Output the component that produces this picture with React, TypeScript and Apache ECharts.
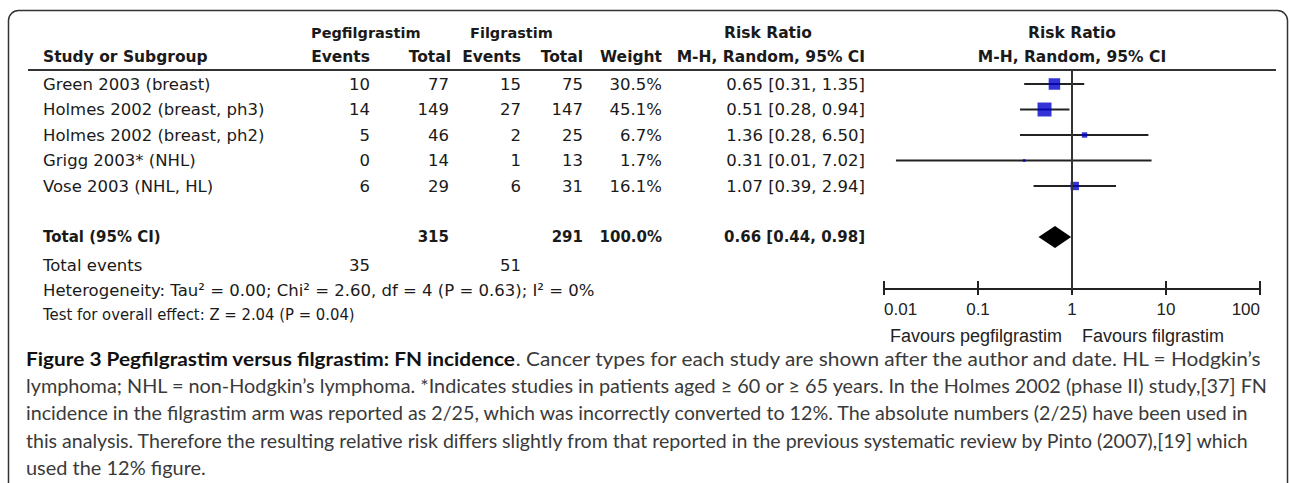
import React, { useEffect, useRef } from "react";
import * as echarts from "echarts";

// ---------- data ----------
const studies = [
  "Green 2003 (breast)",
  "Holmes 2002 (breast, ph3)",
  "Holmes 2002 (breast, ph2)",
  "Grigg 2003* (NHL)",
  "Vose 2003 (NHL, HL)",
];
const pegEvents = [10, 14, 5, 0, 6];
const pegTotal = [77, 149, 46, 14, 29];
const filEvents = [15, 27, 2, 1, 6];
const filTotal = [75, 147, 25, 13, 31];
const weights = [30.5, 45.1, 6.7, 1.7, 16.1];
const riskRatio = [0.65, 0.51, 1.36, 0.31, 1.07];
const ciLow = [0.31, 0.28, 0.28, 0.0134, 0.39];
const ciHigh = [1.35, 0.94, 6.5, 7.02, 2.94];
const totalLabel = "Total (95% CI)";
const totalPeg = 315;
const totalFil = 291;
const totalWeight = 100.0;
const totalRR = [0.44, 0.66, 0.98]; // low, estimate, high
const totalEventsPeg = 35;
const totalEventsFil = 51;
const heterogeneityText = "Heterogeneity: Tau\u00b2 = 0.00; Chi\u00b2 = 2.60, df = 4 (P = 0.63); I\u00b2 = 0%";
const overallText = "Test for overall effect: Z = 2.04 (P = 0.04)";
const axisTickValues = [0.01, 0.1, 1, 10, 100];
const favourLeft = "Favours pegfilgrastim";
const favourRight = "Favours filgrastim";
const captionBold = "Figure 3 Pegfilgrastim versus filgrastim: FN incidence";
const captionLines = [
  ". Cancer types for each study are shown after the author and date. HL = Hodgkin\u2019s",
  "lymphoma; NHL = non-Hodgkin\u2019s lymphoma. *Indicates studies in patients aged \u2265 60 or \u2265 65 years. In the Holmes 2002 (phase II) study,[37] FN",
  "incidence in the filgrastim arm was reported as 2/25, which was incorrectly converted to 12%. The absolute numbers (2/25) have been used in",
  "this analysis. Therefore the resulting relative risk differs slightly from that reported in the previous systematic review by Pinto (2007),[19] which",
  "used the 12% figure.",
];

// ---------- layout ----------
const W = 1290;
const H = 483;
const ROW0 = 84;
const ROWH = 25.5;
const HEAD_LINE_Y = 70;
const AXIS_Y = 289;
const TOTAL_ROW = 6;
const PLOT_LEFT = 884;
const PLOT_RIGHT = 1260;
const CAP_X = 26;
const CAP_Y0 = 358;
const CAP_DY = 27.5;
const CAP_SIZE = 19.5;
const CAP_RIGHT = [1264, 1269, 1250, 1252];

const FONT_T = "'DejaVu Sans', Verdana, sans-serif";
const FONT_A = "'Liberation Sans', Arial, sans-serif";
const FONT_C = "Lato";
const TXT = "#1a1a1a";

const rowY = (i: number) => ROW0 + ROWH * i;

function txt(x: number, y: number, text: string, o: any = {}) {
  return {
    type: "text",
    x,
    y,
    scaleX: o.scaleX || 1,
    silent: true,
    style: {
      text,
      fontFamily: o.family || FONT_T,
      fontSize: o.size || 16.5,
      fontWeight: o.bold ? "bold" : "normal",
      fill: o.color || TXT,
      textAlign: o.align || "left",
      textVerticalAlign: "middle",
    },
  };
}

function measure(text: string, weight: string, size: number, family: string) {
  const c = document.createElement("canvas").getContext("2d");
  if (!c) return 0;
  c.font = `${weight} ${size}px ${family}`;
  return c.measureText(text).width;
}

function buildGraphics() {
  const g: any[] = [];
  g.push({
    type: "rect",
    silent: true,
    shape: { x: 8.5, y: 10.5, width: 1279, height: 700, r: 10 },
    style: { fill: "none", stroke: "#333", lineWidth: 1.5 },
  });
  g.push({
    type: "line",
    silent: true,
    shape: { x1: 28, y1: HEAD_LINE_Y, x2: 1276, y2: HEAD_LINE_Y },
    style: { stroke: "#333", lineWidth: 2 },
  });
  const h1 = 33;
  const h2 = 57;
  const hb = { bold: true, size: 15.5 };
  g.push(txt(311, h1, "Pegfilgrastim", { ...hb, size: 14.5 }));
  g.push(txt(470, h1, "Filgrastim", { ...hb, size: 14.5 }));
  g.push(txt(768, h1, "Risk Ratio", { ...hb, align: "center" }));
  g.push(txt(1072, h1, "Risk Ratio", { ...hb, align: "center" }));
  g.push(txt(43, h2, "Study or Subgroup", hb));
  g.push(txt(370, h2, "Events", { ...hb, align: "right" }));
  g.push(txt(451, h2, "Total", { ...hb, align: "right" }));
  g.push(txt(521, h2, "Events", { ...hb, align: "right" }));
  g.push(txt(583, h2, "Total", { ...hb, align: "right" }));
  g.push(txt(662, h2, "Weight", { ...hb, align: "right" }));
  g.push(txt(865, h2, "M-H, Random, 95% CI", { ...hb, align: "right" }));
  g.push(txt(1072, h2, "M-H, Random, 95% CI", { ...hb, align: "center" }));

  const ci = (l: number, m: number, h: number) =>
    `${m.toFixed(2)} [${l.toFixed(2)}, ${h.toFixed(2)}]`;

  studies.forEach((s, i) => {
    const y = rowY(i);
    g.push(txt(43, y, s));
    g.push(txt(370, y, String(pegEvents[i]), { align: "right" }));
    g.push(txt(449, y, String(pegTotal[i]), { align: "right" }));
    g.push(txt(521, y, String(filEvents[i]), { align: "right" }));
    g.push(txt(583, y, String(filTotal[i]), { align: "right" }));
    g.push(txt(662, y, weights[i].toFixed(1) + "%", { align: "right" }));
    g.push(txt(865, y, ci(ciLow[i], riskRatio[i], ciHigh[i]), { align: "right" }));
  });

  const ty = rowY(TOTAL_ROW);
  const tb = { bold: true, size: 15 };
  g.push(txt(43, ty, totalLabel, tb));
  g.push(txt(449, ty, String(totalPeg), { ...tb, align: "right" }));
  g.push(txt(583, ty, String(totalFil), { ...tb, align: "right" }));
  g.push(txt(662, ty, totalWeight.toFixed(1) + "%", { ...tb, align: "right" }));
  g.push(txt(865, ty, ci(totalRR[0], totalRR[1], totalRR[2]), { ...tb, align: "right" }));

  g.push(txt(43, 265, "Total events"));
  g.push(txt(370, 265, String(totalEventsPeg), { align: "right" }));
  g.push(txt(521, 265, String(totalEventsFil), { align: "right" }));
  g.push(txt(43, 290, heterogeneityText));
  g.push(txt(43, 314, overallText, { scaleX: 0.9 }));

  g.push(txt(1062, 336, favourLeft, { family: FONT_A, size: 18, align: "right", color: "#222" }));
  g.push(txt(1082, 336, favourRight, { family: FONT_A, size: 18, align: "left", color: "#222" }));

  // caption, each line fitted to its measured right edge
  const scales: number[] = [];
  const w0 =
    measure(captionBold, "bold", CAP_SIZE, FONT_C) +
    measure(captionLines[0], "normal", CAP_SIZE, FONT_C);
  scales.push(w0 > 0 ? (CAP_RIGHT[0] - CAP_X) / w0 : 1);
  for (let k = 1; k < 4; k++) {
    const w = measure(captionLines[k], "normal", CAP_SIZE, FONT_C);
    scales.push(w > 0 ? (CAP_RIGHT[k] - CAP_X) / w : 1);
  }
  const meanScale = scales.reduce((a, b) => a + b, 0) / scales.length;
  g.push({
    type: "text",
    x: CAP_X,
    y: CAP_Y0,
    scaleX: scales[0],
    silent: true,
    style: {
      text: `{b|${captionBold}}{n|${captionLines[0]}}`,
      fontFamily: FONT_C,
      fontSize: CAP_SIZE,
      fill: "#3a3a3a",
      textVerticalAlign: "middle",
      rich: {
        b: { fontFamily: FONT_C, fontSize: CAP_SIZE, fontWeight: "bold", fill: "#111" },
        n: { fontFamily: FONT_C, fontSize: CAP_SIZE, fill: "#3a3a3a" },
      },
    },
  });
  for (let k = 1; k < captionLines.length; k++) {
    g.push(
      txt(CAP_X, CAP_Y0 + CAP_DY * k, captionLines[k], {
        family: FONT_C,
        size: CAP_SIZE,
        color: "#3a3a3a",
        scaleX: k < 4 ? scales[k] : meanScale,
      })
    );
  }
  return g;
}

export default function App() {
  const ref = useRef<HTMLDivElement>(null);
  useEffect(() => {
    if (!ref.current) return;
    const chart = echarts.init(ref.current, null, { renderer: "svg" });
    const yMin = (HEAD_LINE_Y - ROW0) / ROWH;
    const yMax = (AXIS_Y - ROW0) / ROWH;
    const option: any = {
      animation: false,
      backgroundColor: "#ffffff",
      grid: {
        left: PLOT_LEFT,
        right: W - PLOT_RIGHT,
        top: HEAD_LINE_Y,
        bottom: H - AXIS_Y,
        containLabel: false,
        outerBoundsMode: "none",
      },
      xAxis: {
        type: "log",
        logBase: 10,
        min: axisTickValues[0],
        max: axisTickValues[axisTickValues.length - 1],
        position: "bottom",
        splitLine: { show: false },
        minorTick: { show: false },
        axisLine: { show: true, onZero: false, lineStyle: { color: "#222", width: 2 } },
        axisTick: { show: false },
        axisLabel: {
          show: true,
          fontFamily: FONT_A,
          fontSize: 17,
          color: "#222",
          margin: 12,
          alignMinLabel: "left",
          alignMaxLabel: "right",
          formatter: (v: number) => String(+v.toPrecision(6)),
        },
      },
      yAxis: {
        type: "value",
        inverse: true,
        min: yMin,
        max: yMax,
        show: false,
        splitLine: { show: false },
      },
      series: [
        {
          type: "custom",
          name: "ci",
          z: 2,
          data: studies.map((_, i) => [ciLow[i], ciHigh[i], i]),
          encode: { x: [0, 1], y: 2 },
          renderItem: (params: any, api: any) => {
            const a = api.coord([api.value(0), api.value(2)]);
            const b = api.coord([api.value(1), api.value(2)]);
            return {
              type: "line",
              shape: { x1: a[0], y1: a[1], x2: b[0], y2: b[1] },
              style: { stroke: "#222", lineWidth: 2 },
            };
          },
          markLine: {
            silent: true,
            symbol: "none",
            label: { show: false },
            lineStyle: { color: "#333", width: 2, type: "solid" },
            data: [{ xAxis: 1 }],
          },
        },
        {
          type: "custom",
          name: "ticks",
          z: 2,
          clip: false,
          data: axisTickValues.map((v) => [v, yMax]),
          encode: { x: 0, y: 1 },
          renderItem: (params: any, api: any) => {
            const p = api.coord([api.value(0), api.value(1)]);
            return {
              type: "line",
              shape: { x1: p[0], y1: p[1] - 8, x2: p[0], y2: p[1] + 6 },
              style: { stroke: "#222", lineWidth: 2 },
            };
          },
        },
        {
          type: "scatter",
          name: "rr",
          z: 4,
          symbol: "rect",
          symbolSize: (v: number[]) => 2.08 * Math.sqrt(v[2]),
          itemStyle: { color: "#0000cc" },
          data: studies.map((_, i) => [riskRatio[i], i, weights[i]]),
        },
        {
          type: "custom",
          name: "total",
          z: 4,
          data: [[totalRR[0], totalRR[1], totalRR[2], TOTAL_ROW]],
          encode: { x: [0, 1, 2], y: 3 },
          renderItem: (params: any, api: any) => {
            const l = api.coord([api.value(0), api.value(3)]);
            const c = api.coord([api.value(1), api.value(3)]);
            const r = api.coord([api.value(2), api.value(3)]);
            const hh = 11;
            return {
              type: "polygon",
              shape: {
                points: [
                  [l[0], l[1]],
                  [c[0], c[1] - hh],
                  [r[0], r[1]],
                  [c[0], c[1] + hh],
                ],
              },
              style: { fill: "#000" },
            };
          },
        },
      ],
      graphic: buildGraphics(),
    };
    chart.setOption(option);
    return () => chart.dispose();
  }, []);
  return (
    <div
      ref={ref}
      style={{ position: "absolute", left: 0, top: 0, width: W, height: H, background: "#fff" }}
    />
  );
}
